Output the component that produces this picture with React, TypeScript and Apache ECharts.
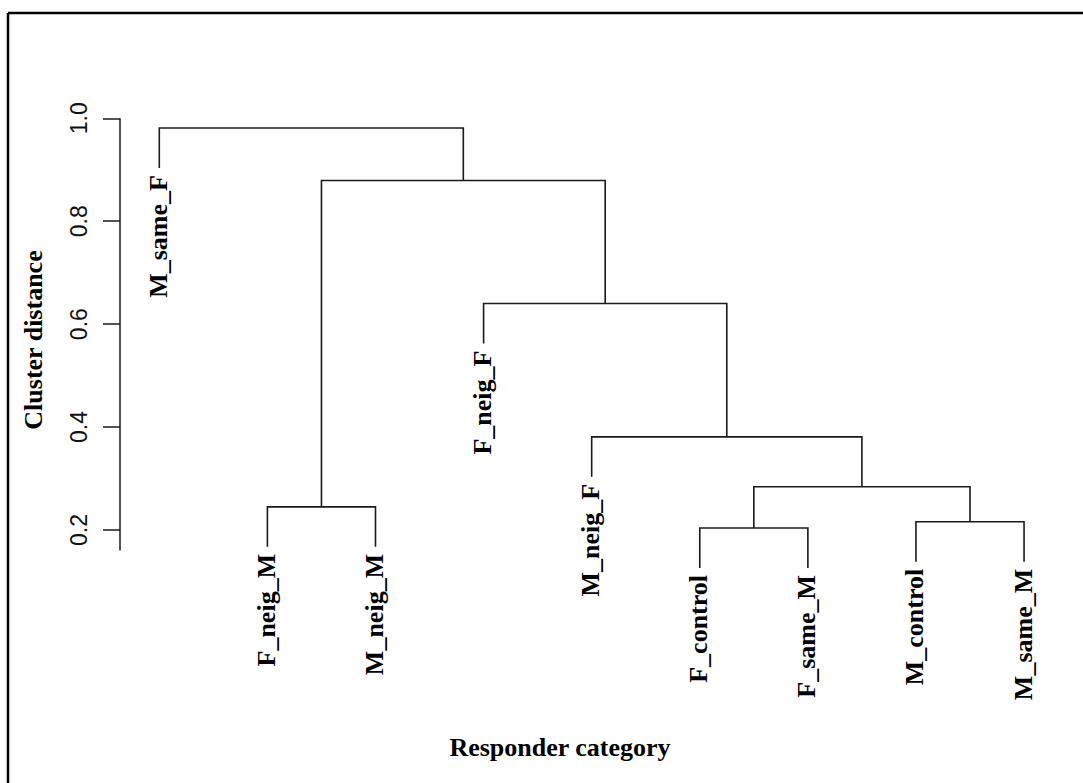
import React, { useEffect, useRef } from "react";
import * as echarts from "echarts";

// Leaf order along the x axis (dendrogram order)
const leaves = ["M_same_F", "F_neig_M", "M_neig_M", "F_neig_F", "M_neig_F", "F_control", "F_same_M", "M_control", "M_same_M"];
// Merges (R hclust style): "#k" refers to merge k (1-based)
const mergeLeft = ["F_control", "M_control", "F_neig_M", "#1", "M_neig_F", "F_neig_F", "#3", "M_same_F"];
const mergeRight = ["F_same_M", "M_same_M", "M_neig_M", "#2", "#4", "#5", "#6", "#7"];
const mergeHeights = [0.204, 0.216, 0.245, 0.284, 0.381, 0.640, 0.879, 0.981];
const yTicks = [0.2, 0.4, 0.6, 0.8, 1.0];

const X_MIN = 0.6364;
const X_MAX = 9.4;
const Y_MIN = 0.09;
const Y_MAX = 1.02;

function buildTree() {
  const hang = 0.1 * (Math.max(...mergeHeights) - Math.min(...mergeHeights));
  const mergeX: number[] = [];
  const segs: number[][] = [];
  const leafEnds: { name: string; value: number[] }[] = [];
  const nodeX = (ref: string) => (ref.startsWith("#") ? mergeX[parseInt(ref.slice(1), 10) - 1] : leaves.indexOf(ref) + 1);
  const nodeY = (ref: string, h: number) => {
    if (ref.startsWith("#")) return mergeHeights[parseInt(ref.slice(1), 10) - 1];
    leafEnds.push({ name: ref, value: [leaves.indexOf(ref) + 1, h - hang] });
    return h - hang;
  };
  mergeHeights.forEach((h, i) => {
    const xl = nodeX(mergeLeft[i]);
    const xr = nodeX(mergeRight[i]);
    const yl = nodeY(mergeLeft[i], h);
    const yr = nodeY(mergeRight[i], h);
    mergeX.push((xl + xr) / 2);
    segs.push([xl, yl, xr, yr, h]);
  });
  return { segs, leafEnds };
}

export default function App() {
  const ref = useRef<HTMLDivElement>(null);
  useEffect(() => {
    if (!ref.current) return;
    const chart = echarts.init(ref.current, null, { renderer: "svg" });
    const { segs, leafEnds } = buildTree();
    const lineColor = "#1a1a1a";
    chart.setOption({
      animation: false,
      backgroundColor: "#ffffff",
      grid: { left: 120, right: 15.7, top: 108, bottom: 196.4, containLabel: false },
      xAxis: {
        type: "value",
        min: X_MIN,
        max: X_MAX,
        show: false,
      },
      yAxis: {
        type: "value",
        min: Y_MIN,
        max: Y_MAX,
        axisLine: { show: false },
        splitLine: { show: false },
        axisTick: {
          show: true,
          length: 17,
          customValues: yTicks,
          lineStyle: { color: lineColor, width: 1.5 },
        },
        axisLabel: {
          customValues: yTicks,
          rotate: 90,
          margin: 30,
          color: "#111",
          fontFamily: "Liberation Sans",
          fontSize: 23,
          formatter: (v: number) => v.toFixed(1),
        },
      },
      graphic: [
        { type: "line", shape: { x1: 8, y1: 13, x2: 1083, y2: 13 }, style: { stroke: "#000", lineWidth: 2.5 } },
        { type: "line", shape: { x1: 8, y1: 13, x2: 8, y2: 783 }, style: { stroke: "#000", lineWidth: 2.5 } },
        {
          type: "text",
          x: 33,
          y: 340,
          rotation: Math.PI / 2,
          style: {
            text: "Cluster distance",
            fontFamily: "Liberation Serif",
            fontWeight: "bold",
            fontSize: 26,
            fill: "#000",
            align: "center",
            verticalAlign: "middle",
          },
        },
        {
          type: "text",
          x: 560,
          y: 747,
          style: {
            text: "Responder category",
            fontFamily: "Liberation Serif",
            fontWeight: "bold",
            fontSize: 26,
            fill: "#000",
            align: "center",
            verticalAlign: "middle",
          },
        },
      ],
      series: [
        {
          type: "line",
          data: [[X_MIN, 0.16], [X_MIN, 1.0]],
          symbol: "none",
          clip: false,
          silent: true,
          lineStyle: { color: lineColor, width: 1.5 },
        },
        {
          type: "custom",
          data: segs,
          clip: false,
          silent: true,
          renderItem: (params: any, api: any) => {
            const xl = api.value(0), yl = api.value(1), xr = api.value(2), yr = api.value(3), h = api.value(4);
            const p1 = api.coord([xl, yl]);
            const p2 = api.coord([xl, h]);
            const p3 = api.coord([xr, h]);
            const p4 = api.coord([xr, yr]);
            return {
              type: "polyline",
              shape: { points: [p1, p2, p3, p4] },
              style: { stroke: lineColor, lineWidth: 1.6, fill: "none" },
            };
          },
        },
        {
          type: "custom",
          data: leafEnds,
          clip: false,
          silent: true,
          renderItem: (params: any, api: any) => {
            const p = api.coord([api.value(0), api.value(1)]);
            const item = leafEnds[params.dataIndex];
            return {
              type: "text",
              x: p[0] - 1,
              y: p[1] + 7,
              rotation: Math.PI / 2,
              style: {
                text: item.name,
                fontFamily: "Liberation Serif",
                fontWeight: "bold",
                fontSize: 26,
                fill: "#000",
                align: "right",
                verticalAlign: "middle",
              },
            };
          },
        },
      ],
    });
    return () => chart.dispose();
  }, []);
  return <div ref={ref} style={{ position: "fixed", left: 0, top: 0, width: 1083, height: 783 }} />;
}
